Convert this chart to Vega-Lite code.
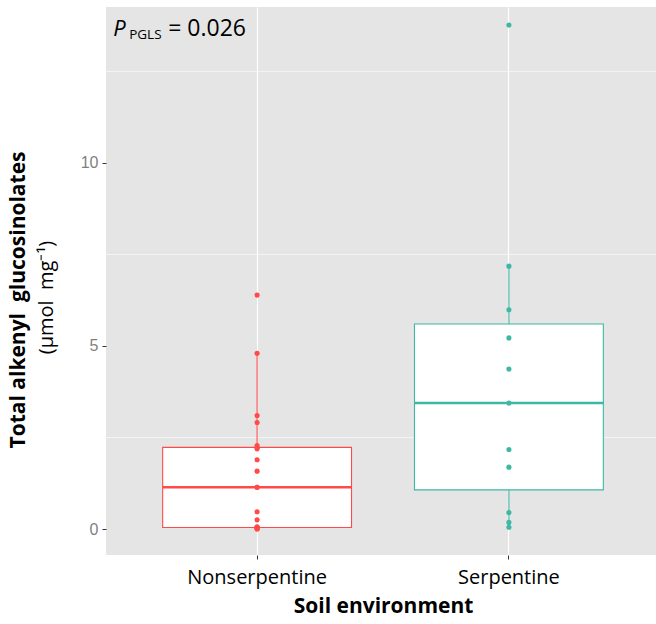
{
  "$schema": "https://vega.github.io/schema/vega-lite/v6.json",
  "width": 554,
  "height": 548,
  "autosize": "none",
  "padding": {"left": 106, "top": 7, "right": 0, "bottom": 69},
  "background": "white",
  "config": {
    "view": {"fill": "#E5E5E5", "stroke": null},
    "font": "Open Sans",
    "axisX": {"labelColor": "black", "labelFont": "Open Sans", "labelFontSize": 20, "labelAngle": 0, "domain": false, "tickColor": "#333333", "tickSize": 4, "gridColor": "white", "gridWidth": 1.2, "grid": true, "bandPosition": 0.5, "labelPadding": 8, "titleFont": "Open Sans", "titleFontSize": 21, "titleFontWeight": "bold", "titleColor": "black", "titlePadding": 8},
    "axisY": {"domain": false, "tickColor": "#333333", "tickSize": 4, "labelColor": "#7F7F7F", "labelFont": "Liberation Sans", "labelFontSize": 16, "labelPadding": 4, "gridColor": "white", "gridWidth": 1.2}
  },
  "title": {
    "text": "Total alkenyl\u00a0 glucosinolates",
    "orient": "left",
    "anchor": "middle",
    "frame": "group",
    "font": "Open Sans",
    "fontSize": 21,
    "fontWeight": "bold",
    "color": "black",
    "offset": 7,
    "dx": -19
  },
  "datasets": {
    "note": [{"soil": "Nonserpentine", "p": "P", "sub": "PGLS", "rest": "= 0.026"}],
    "box": [
      {"soil": "Nonserpentine", "lower": 0.0, "q1": 0.04, "median": 1.14, "q3": 2.23, "upper": 4.80},
      {"soil": "Serpentine", "lower": 0.05, "q1": 1.07, "median": 3.44, "q3": 5.60, "upper": 7.18}
    ],
    "points": [
      {"soil": "Nonserpentine", "value": 6.39},
      {"soil": "Nonserpentine", "value": 4.80},
      {"soil": "Nonserpentine", "value": 3.10},
      {"soil": "Nonserpentine", "value": 2.91},
      {"soil": "Nonserpentine", "value": 2.28},
      {"soil": "Nonserpentine", "value": 2.22},
      {"soil": "Nonserpentine", "value": 2.19},
      {"soil": "Nonserpentine", "value": 1.89},
      {"soil": "Nonserpentine", "value": 1.58},
      {"soil": "Nonserpentine", "value": 1.14},
      {"soil": "Nonserpentine", "value": 1.14},
      {"soil": "Nonserpentine", "value": 0.47},
      {"soil": "Nonserpentine", "value": 0.25},
      {"soil": "Nonserpentine", "value": 0.06},
      {"soil": "Nonserpentine", "value": 0.05},
      {"soil": "Nonserpentine", "value": 0.04},
      {"soil": "Nonserpentine", "value": 0.03},
      {"soil": "Nonserpentine", "value": 0.02},
      {"soil": "Nonserpentine", "value": 0.01},
      {"soil": "Nonserpentine", "value": 0.0},
      {"soil": "Serpentine", "value": 13.77},
      {"soil": "Serpentine", "value": 7.18},
      {"soil": "Serpentine", "value": 5.99},
      {"soil": "Serpentine", "value": 5.22},
      {"soil": "Serpentine", "value": 4.37},
      {"soil": "Serpentine", "value": 3.44},
      {"soil": "Serpentine", "value": 2.17},
      {"soil": "Serpentine", "value": 1.69},
      {"soil": "Serpentine", "value": 0.45},
      {"soil": "Serpentine", "value": 0.18},
      {"soil": "Serpentine", "value": 0.05}
    ]
  },
  "data": {"name": "note"},
  "layer": [
    {"mark": {"type": "rule", "color": "white", "strokeWidth": 0.6}, "encoding": {"y": {"datum": 2.5, "type": "quantitative", "scale": {"domain": [-0.71, 14.26], "nice": false, "zero": false}}}},
    {"mark": {"type": "rule", "color": "white", "strokeWidth": 0.6}, "encoding": {"y": {"datum": 7.5, "type": "quantitative"}}},
    {"mark": {"type": "rule", "color": "white", "strokeWidth": 0.6}, "encoding": {"y": {"datum": 12.5, "type": "quantitative"}}},
    {
      "data": {"name": "box"},
      "mark": {"type": "rule", "strokeWidth": 1.1},
      "encoding": {
        "x": {"field": "soil", "type": "nominal", "title": "Soil environment", "scale": {"domain": ["Nonserpentine", "Serpentine"], "paddingInner": 0, "paddingOuter": 0.1}},
        "y": {"field": "lower", "type": "quantitative", "title": "(µmol\u00a0 mg⁻¹)", "axis": {"values": [0, 5, 10], "title": "(µmol\u00a0 mg⁻¹)", "titleFont": "Open Sans", "titleFontSize": 20, "titleFontWeight": "normal", "titleColor": "black", "titleAngle": 270, "titleAlign": "center", "titleBaseline": "alphabetic", "titleX": -54, "titleY": 290}},
        "y2": {"field": "upper"},
        "color": {"field": "soil", "type": "nominal", "legend": null, "scale": {"domain": ["Nonserpentine", "Serpentine"], "range": ["#FF4A4A", "#3DB8A5"]}}
      }
    },
    {
      "data": {"name": "box"},
      "mark": {"type": "bar", "fill": "white", "strokeWidth": 1.1, "width": {"band": 0.75}},
      "encoding": {
        "x": {"field": "soil", "type": "nominal", "title": "Soil environment"},
        "y": {"field": "q1", "type": "quantitative", "title": "(µmol\u00a0 mg⁻¹)"},
        "y2": {"field": "q3"},
        "stroke": {"field": "soil", "type": "nominal", "legend": null, "scale": {"domain": ["Nonserpentine", "Serpentine"], "range": ["#FF4A4A", "#3DB8A5"]}}
      }
    },
    {
      "data": {"name": "box"},
      "mark": {"type": "bar", "fill": null, "strokeWidth": 2.5, "width": {"band": 0.75}},
      "encoding": {
        "x": {"field": "soil", "type": "nominal", "title": "Soil environment"},
        "y": {"field": "median", "type": "quantitative", "title": "(µmol\u00a0 mg⁻¹)"},
        "y2": {"field": "median"},
        "stroke": {"field": "soil", "type": "nominal", "legend": null}
      }
    },
    {
      "data": {"name": "points"},
      "mark": {"type": "circle", "size": 26, "opacity": 1},
      "encoding": {
        "x": {"field": "soil", "type": "nominal", "title": "Soil environment"},
        "y": {"field": "value", "type": "quantitative", "title": "(µmol\u00a0 mg⁻¹)"},
        "color": {"field": "soil", "type": "nominal", "legend": null}
      }
    },
    {
      "mark": {"type": "text", "font": "Open Sans", "fontStyle": "italic", "fontSize": 22, "align": "left", "baseline": "alphabetic", "dx": -18, "color": "black"},
      "encoding": {
        "x": {"datum": "Nonserpentine", "type": "nominal", "bandPosition": 0},
        "y": {"datum": 13.47, "type": "quantitative"},
        "text": {"field": "p"}
      }
    },
    {
      "mark": {"type": "text", "font": "Open Sans", "fontSize": 13.5, "align": "left", "baseline": "alphabetic", "dx": -2, "dy": 3, "color": "black"},
      "encoding": {
        "x": {"datum": "Nonserpentine", "type": "nominal", "bandPosition": 0},
        "y": {"datum": 13.47, "type": "quantitative"},
        "text": {"field": "sub"}
      }
    },
    {
      "mark": {"type": "text", "font": "Open Sans", "fontSize": 23, "align": "left", "baseline": "alphabetic", "dx": 37, "color": "black"},
      "encoding": {
        "x": {"datum": "Nonserpentine", "type": "nominal", "bandPosition": 0},
        "y": {"datum": 13.47, "type": "quantitative"},
        "text": {"field": "rest"}
      }
    }
  ]
}
